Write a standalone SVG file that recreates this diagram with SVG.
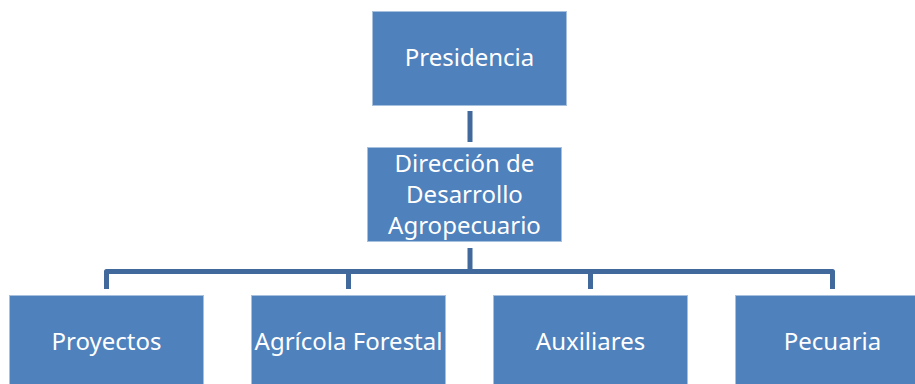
<svg xmlns="http://www.w3.org/2000/svg" width="915" height="384" viewBox="0 0 915 384">
<style>
.box{fill:#4F81BD;stroke:#A7C0DE;stroke-width:1}
.lbl{font-family:"Noto Sans","Open Sans",sans-serif;font-size:24px;fill:#FFFFFF;text-anchor:middle}
.con{fill:none;stroke:#41699B;stroke-width:5;stroke-linejoin:round}
</style>
<rect width="915" height="384" fill="#FFFFFF"/>
<g id="connectors">
<path class="con" d="M470,111 V142"/>
<path class="con" d="M470,248 V271.5"/>
<path class="con" d="M106.5,289 V271.5 H832.5 V289"/>
<path class="con" d="M348.5,271.5 V289"/>
<path class="con" d="M590.5,271.5 V289"/>
</g>
<g id="presidencia">
<rect class="box" x="372.5" y="11.5" width="194" height="94"/>
<text class="lbl" x="469.5" y="65.5">Presidencia</text>
</g>
<g id="direccion">
<rect class="box" x="367.5" y="147.5" width="194" height="94"/>
<text class="lbl" x="464.5" y="171.5">Dirección de</text>
<text class="lbl" x="464.5" y="202.5">Desarrollo</text>
<text class="lbl" x="464.5" y="233.5">Agropecuario</text>
</g>
<g id="proyectos">
<rect class="box" x="9.5" y="295.5" width="194" height="100"/>
<text class="lbl" x="106.5" y="350">Proyectos</text>
</g>
<g id="agricola">
<rect class="box" x="251.5" y="295.5" width="194" height="100"/>
<text class="lbl" x="348.5" y="350">Agrícola Forestal</text>
</g>
<g id="auxiliares">
<rect class="box" x="493.5" y="295.5" width="194" height="100"/>
<text class="lbl" x="590.5" y="350">Auxiliares</text>
</g>
<g id="pecuaria">
<rect class="box" x="735.5" y="295.5" width="194" height="100"/>
<text class="lbl" x="832.5" y="350">Pecuaria</text>
</g>
</svg>
